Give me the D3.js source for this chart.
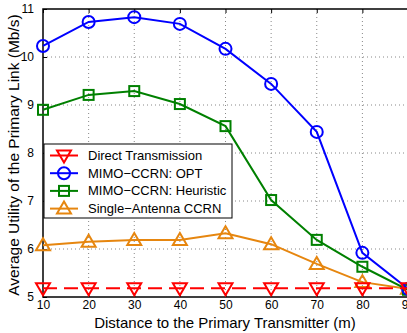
<!DOCTYPE html>
<html>
<head>
<meta charset="utf-8">
<script src="https://cdn.jsdelivr.net/npm/d3@7"></script>
<style>
  body { margin: 0; background: #fff; }
  svg { display: block; font-family: "Liberation Sans", Arial, sans-serif; }
</style>
</head>
<body>
<div id="chart"></div>
<script>
// distances (m)
const distances = [10, 20, 30, 40, 50, 60, 70, 80, 90];
const directTx = [5.18, 5.18, 5.18, 5.18, 5.18, 5.18, 5.18, 5.18, 5.18];
const mimoOpt = [10.23, 10.73, 10.83, 10.69, 10.17, 9.44, 8.44, 5.92, 5.17];
const mimoHeur = [8.90, 9.21, 9.29, 9.02, 8.56, 7.02, 6.19, 5.63, 5.15];
const singleAnt = [6.08, 6.15, 6.19, 6.19, 6.33, 6.10, 5.69, 5.31, 5.17];
const yTicks = [5, 6, 7, 8, 9, 10, 11];

const series = [
  { name: "Direct Transmission", values: directTx, color: "#ff0000", marker: "tri-down", dash: "14,7" },
  { name: "MIMO\u2212CCRN: OPT", values: mimoOpt, color: "#0000ff", marker: "circle", dash: null },
  { name: "MIMO\u2212CCRN: Heuristic", values: mimoHeur, color: "#008000", marker: "square", dash: null },
  { name: "Single\u2212Antenna CCRN", values: singleAnt, color: "#e6860f", marker: "tri-up", dash: null }
];

const W = 407, H = 333;
const pLeft = 43, pRight = 408, pTop = 9, pBottom = 297;

const svg = d3.select("#chart").append("svg")
  .attr("width", W)
  .attr("height", H);

const x = d3.scaleLinear().domain([10, 90]).range([pLeft, pRight]);
const y = d3.scaleLinear().domain([5, 11]).range([pBottom, pTop]);

// grid
svg.append("g").selectAll("line")
  .data(distances.slice(1, -1))
  .join("line")
  .attr("x1", d => x(d)).attr("x2", d => x(d))
  .attr("y1", pTop).attr("y2", pBottom)
  .attr("stroke", "#888").attr("stroke-width", 1)
  .attr("stroke-dasharray", "1,3");

svg.append("g").selectAll("line")
  .data(yTicks.slice(1, -1))
  .join("line")
  .attr("x1", pLeft).attr("x2", pRight)
  .attr("y1", d => y(d)).attr("y2", d => y(d))
  .attr("stroke", "#888").attr("stroke-width", 1)
  .attr("stroke-dasharray", "1,3");

// axes frame
svg.append("rect")
  .attr("x", pLeft).attr("y", pTop)
  .attr("width", pRight - pLeft).attr("height", pBottom - pTop)
  .attr("fill", "none").attr("stroke", "#000").attr("stroke-width", 1.5);

// x axis (ticks inside)
const xAxis = svg.append("g")
  .attr("transform", `translate(0,${pBottom})`)
  .call(d3.axisBottom(x).tickValues(distances).tickSizeInner(-4).tickSizeOuter(0).tickPadding(3));
xAxis.select(".domain").remove();
xAxis.selectAll("text").style("font-size", "12px").attr("fill", "#000");

const xAxisTop = svg.append("g")
  .attr("transform", `translate(0,${pTop})`)
  .call(d3.axisTop(x).tickValues(distances).tickSizeInner(-4).tickSizeOuter(0).tickFormat(""));
xAxisTop.select(".domain").remove();

// y axis
const yAxis = svg.append("g")
  .attr("transform", `translate(${pLeft},0)`)
  .call(d3.axisLeft(y).tickValues(yTicks).tickFormat(d3.format("d"))
    .tickSizeInner(-4).tickSizeOuter(0).tickPadding(9));
yAxis.select(".domain").remove();
yAxis.selectAll("text").style("font-size", "12px").attr("fill", "#000");

// axis titles
svg.append("text")
  .attr("x", 225).attr("y", 328)
  .attr("text-anchor", "middle")
  .style("font-size", "15px")
  .text("Distance to the Primary Transmitter (m)");

svg.append("text")
  .attr("transform", `translate(19,${(pTop + pBottom) / 2 + 2}) rotate(-90)`)
  .attr("text-anchor", "middle")
  .style("font-size", "15.5px")
  .text("Average Utility of the Primary Link (Mb/s)");

function drawMarker(g, type, color, cx, cy) {
  if (type === "circle") {
    g.append("circle").attr("cx", cx).attr("cy", cy).attr("r", 6)
      .attr("fill", "none").attr("stroke", color).attr("stroke-width", 2);
  } else if (type === "square") {
    g.append("rect").attr("x", cx - 5).attr("y", cy - 5).attr("width", 10).attr("height", 10)
      .attr("fill", "none").attr("stroke", color).attr("stroke-width", 2);
  } else if (type === "tri-down") {
    g.append("path").attr("d", `M${cx - 7},${cy - 5}L${cx + 7},${cy - 5}L${cx},${cy + 7}Z`)
      .attr("fill", "none").attr("stroke", color).attr("stroke-width", 2);
  } else if (type === "tri-up") {
    g.append("path").attr("d", `M${cx - 7},${cy + 5}L${cx + 7},${cy + 5}L${cx},${cy - 7}Z`)
      .attr("fill", "none").attr("stroke", color).attr("stroke-width", 2);
  }
}

const line = d3.line().x((d, i) => x(distances[i])).y(d => y(d));

// draw in reverse order so Direct Transmission sits on top
series.slice().reverse().forEach(s => {
  const g = svg.append("g");
  g.append("path")
    .attr("d", line(s.values))
    .attr("fill", "none")
    .attr("stroke", s.color)
    .attr("stroke-width", 2)
    .attr("stroke-dasharray", s.dash);
  s.values.forEach((v, i) => drawMarker(g, s.marker, s.color, x(distances[i]), y(v)));
});

// legend
const lg = svg.append("g");
lg.append("rect")
  .attr("x", pLeft + 1).attr("y", 144)
  .attr("width", 188).attr("height", 74)
  .attr("fill", "#fff").attr("stroke", "#000").attr("stroke-width", 1);

series.forEach((s, i) => {
  const ly = 155.5 + i * 17.7;
  lg.append("line")
    .attr("x1", 50).attr("x2", 78)
    .attr("y1", ly).attr("y2", ly)
    .attr("stroke", s.color).attr("stroke-width", 2);
  drawMarker(lg, s.marker, s.color, 64, ly);
  lg.append("text")
    .attr("x", 88).attr("y", ly + 4.5)
    .style("font-size", "13px")
    .text(s.name);
});
</script>
</body>
</html>
